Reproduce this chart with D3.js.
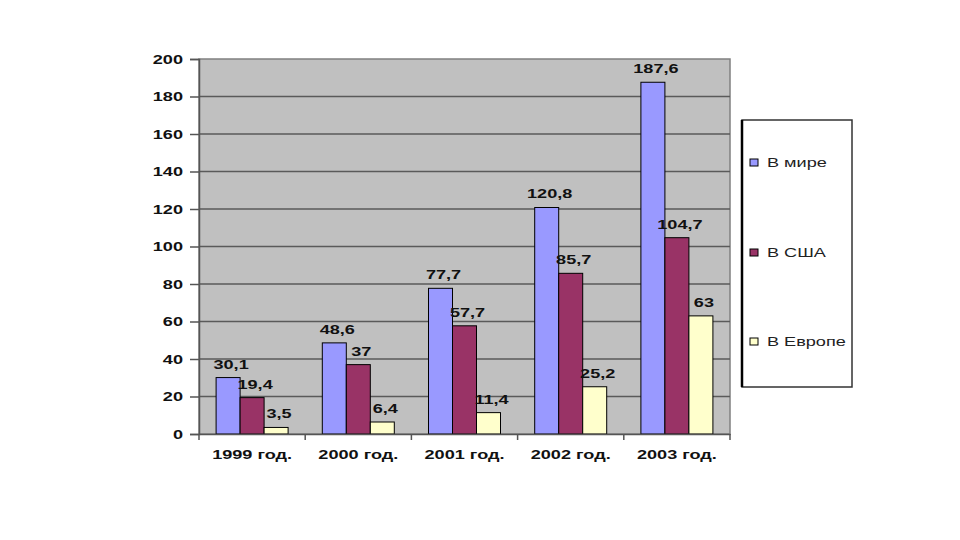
<!DOCTYPE html>
<html><head><meta charset="utf-8">
<script src="https://cdn.jsdelivr.net/npm/d3@7"></script>
<style>body{margin:0;background:#fff}svg{display:block}text{font-family:"Liberation Sans",Arial,sans-serif}</style>
</head><body><svg id="c" width="960" height="540"></svg>
<script>
const categories = ["1999 год.", "2000 год.", "2001 год.", "2002 год.", "2003 год."];
const seriesNames = ["В мире", "В США", "В Европе"];
const world = [30.1, 48.6, 77.7, 120.8, 187.6];
const usa = [19.4, 37, 57.7, 85.7, 104.7];
const europe = [3.5, 6.4, 11.4, 25.2, 63];
const yTicks = [0, 20, 40, 60, 80, 100, 120, 140, 160, 180, 200];
const colors = ["#9999ff", "#993366", "#ffffcc"];

const series = [world, usa, europe];
const SX = 1.45, FS = 12.5;
const svg = d3.select("#c");
const L = 199, R = 730, T = 59, B = 434;
const x = d3.scaleBand().domain(categories).range([L, R]).paddingInner(0).paddingOuter(0);
const y = d3.scaleLinear().domain([0, 200]).range([B, T]);
const groupW = 72;
const xs = d3.scaleBand().domain(seriesNames).range([0, groupW]);

function stretch(sel) {
  sel.each(function () {
    const t = d3.select(this);
    const xv = +(t.attr("x") || 0);
    t.attr("x", 0).attr("transform", `translate(${xv},0) scale(${SX},1)`);
  });
}

svg.append("rect").attr("x", L).attr("y", T).attr("width", R - L).attr("height", B - T)
  .attr("fill", "#c0c0c0").attr("stroke", "#808080").attr("stroke-width", 1.5);

svg.append("g").selectAll("line").data(yTicks.filter(d => d > 0 && d < 200)).join("line")
  .attr("x1", L).attr("x2", R).attr("y1", d => y(d)).attr("y2", d => y(d))
  .attr("stroke", "#5a5a5a").attr("stroke-width", 1.5);

const fmt = v => String(v).replace(".", ",");
const fmtT = v => String(v);

series.forEach((s, si) => {
  svg.append("g").selectAll("rect").data(s).join("rect")
    .attr("x", (d, i) => x(categories[i]) + (x.bandwidth() - groupW) / 2 + xs(seriesNames[si]))
    .attr("width", xs.bandwidth())
    .attr("y", d => y(d)).attr("height", d => B - y(d))
    .attr("fill", colors[si]).attr("stroke", "#000").attr("stroke-width", 1);
});
series.forEach((s, si) => {
  svg.append("g").selectAll("text").data(s).join("text")
    .attr("x", (d, i) => x(categories[i]) + (x.bandwidth() - groupW) / 2 + xs(seriesNames[si]) + xs.bandwidth() / 2 + 3)
    .attr("y", d => y(d) - 9)
    .attr("text-anchor", "middle").attr("font-size", FS).attr("font-weight", "bold").attr("fill", "#111")
    .text(fmt)
    .call(stretch);
});

// y axis
const yAxis = d3.axisLeft(y).tickValues(yTicks).tickSize(9).tickPadding(7).tickFormat(fmtT);
const ga = svg.append("g").attr("transform", `translate(${L},0)`).call(yAxis);
ga.select(".domain").attr("stroke", "#555").attr("stroke-width", 1.5);
ga.selectAll(".tick line").attr("stroke", "#555").attr("stroke-width", 1.5);
ga.selectAll("text").attr("font-size", FS).attr("font-weight", "bold").attr("fill", "#111")
  .attr("font-family", "Liberation Sans, Arial, sans-serif").call(stretch);

// x axis
const xAxis = d3.axisBottom(x).tickSize(0).tickPadding(16);
const gx = svg.append("g").attr("transform", `translate(0,${B})`).call(xAxis);
gx.select(".domain").attr("stroke", "#555").attr("stroke-width", 1.5);
gx.selectAll("text").attr("font-size", FS).attr("font-weight", "bold").attr("fill", "#111")
  .attr("font-family", "Liberation Sans, Arial, sans-serif").call(stretch);
svg.append("g").selectAll("line").data(d3.range(categories.length + 1)).join("line")
  .attr("x1", i => L + i * x.step()).attr("x2", i => L + i * x.step())
  .attr("y1", B).attr("y2", B + 6).attr("stroke", "#555").attr("stroke-width", 1.5);

// legend
const lg = svg.append("g");
lg.append("rect").attr("x", 742).attr("y", 120).attr("width", 110).attr("height", 267)
  .attr("fill", "#fff").attr("stroke", "#333").attr("stroke-width", 1.5);
lg.append("line").attr("x1", 742).attr("x2", 742).attr("y1", 120).attr("y2", 387)
  .attr("stroke", "#000").attr("stroke-width", 2.5);
const ly = [163, 253, 342];
seriesNames.forEach((n, i) => {
  lg.append("rect").attr("x", 750).attr("y", ly[i] - 4).attr("width", 8).attr("height", 7)
    .attr("fill", colors[i]).attr("stroke", "#000").attr("stroke-width", 1);
  lg.append("text").attr("x", 767).attr("y", ly[i] + 4.5).attr("font-size", FS).attr("fill", "#222").text(n)
    .call(stretch);
});
</script></body></html>
